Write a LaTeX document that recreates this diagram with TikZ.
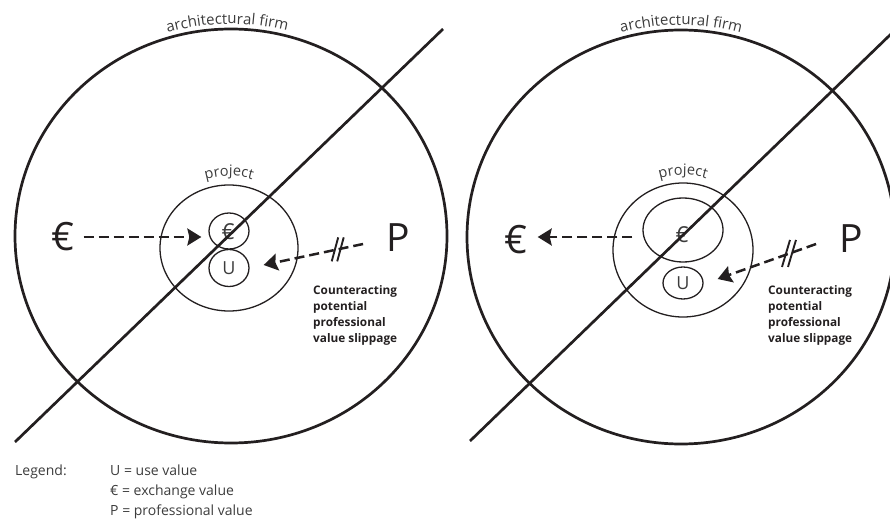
\documentclass[tikz,border=0pt]{standalone}
\usepackage{fontspec}
\setmainfont{Open Sans}
\usetikzlibrary{arrows.meta,calc,shapes.geometric,decorations.text}
\definecolor{ink}{HTML}{231F20}
\definecolor{txt}{HTML}{3C3C3C}
\begin{document}
\begin{tikzpicture}[x=1pt,y=1pt,
  firm/.style={ellipse, draw=ink, line width=2.7pt, inner sep=0pt},
  inner/.style={ellipse, draw=ink, line width=1.3pt, inner sep=0pt},
  diag/.style={draw=ink, line width=2.7pt},
  dasharrow/.style={draw=ink, line width=2.5pt, dash pattern=on 10pt off 5pt,
     -{Stealth[length=14pt,width=17pt,inset=2pt]}},
  slash/.style={draw=ink, line width=1.9pt},
  bigsym/.style={inner sep=0pt, text=ink, font=\fontsize{39}{39}\selectfont},
  usym/.style={inner sep=0pt, text=txt, font=\fontsize{18}{18}\selectfont},
  esym/.style={inner sep=0pt, text=txt, font=\fontsize{22}{22}\selectfont},
  note/.style={inner sep=0pt, anchor=north west, align=left, text=ink,
     font=\bfseries\fontsize{11.8}{16}\selectfont},
  legend/.style={inner sep=0pt, anchor=base west, text=txt,
     font=\fontsize{14}{14}\selectfont},
  arclabel/.style 2 args={decorate, decoration={text along path, text align=center,
     text={|\fontsize{#2}{#2}\selectfont\color{txt}|#1}}}
]
\useasboundingbox (0,0) rectangle (890,520);

% ---------------- left diagram ----------------
\node[firm, minimum width=432pt, minimum height=414pt] (firmL) at (231,284) {};
\path[arclabel={architectural firm}{15}] (firmL.center) ++(127:220 and 212)
  arc[start angle=127, end angle=55, x radius=220, y radius=212];
\node[inner, minimum width=138pt, minimum height=126pt] (projL) at (229,272) {};
\path[arclabel={project}{14.5}] (projL.center) ++(125:77 and 72)
  arc[start angle=125, end angle=55, x radius=77, y radius=72];
\node[inner, minimum width=40pt, minimum height=36pt] (eL) at (229,289) {};
\node[inner, minimum width=40pt, minimum height=37pt] (uL) at (229,252) {};
\node[esym] (eLt) at (228,288) {€};
\node[usym] (uLt) at (229,252) {U};
\coordinate (dL1) at (15,78);
\coordinate (dL2) at (443,491);
\draw[diag] (dL1) -- (dL2);
\node[bigsym] (EL) at (63,283) {€};
\node[bigsym] (PL) at (398,282) {P};
\draw[dasharrow, shorten <=9pt, shorten >=7pt] (EL.east) -- (EL.east -| eL.west);
\draw[dasharrow] ($(PL.west)+(-23,-6)$) -- coordinate[pos=0.255] (sL) ($(uL.east)+(14,3)$);
\draw[slash] ([shift={(-6,-12)}]sL) -- ++(6.5,24);
\draw[slash] ([shift={(-0.5,-12)}]sL) -- ++(6.5,24);
\node[note] (noteL) at (313,235) {Counteracting\\potential\\professional\\value slippage};

% ---------------- right diagram ----------------
\node[firm, minimum width=428pt, minimum height=414pt] (firmR) at (681,283) {};
\path[arclabel={architectural firm}{15}] (firmR.center) ++(126:220 and 212)
  arc[start angle=126, end angle=54, x radius=220, y radius=212];
\node[inner, minimum width=140pt, minimum height=134pt] (projR) at (683,270) {};
\path[arclabel={project}{14.5}] (projR.center) ++(125:77 and 75)
  arc[start angle=125, end angle=55, x radius=77, y radius=75];
\node[inner, minimum width=80pt, minimum height=64pt] (eR) at (683,290) {};
\node[inner, minimum width=40pt, minimum height=32pt] (uR) at (683,237) {};
\node[esym] (eRt) at (682,285) {€};
\node[usym] (uRt) at (683,237) {U};
\coordinate (dR1) at (470,79);
\coordinate (dR2) at (891,486);
\draw[diag] (dR1) -- (dR2);
\node[bigsym] (ER) at (516,280) {€};
\node[bigsym] (PR) at (851,281) {P};
\draw[dasharrow] ($(eR.west)+(-10,-7)$) -- ($(ER.east)+(10,3)$);
\draw[dasharrow] ($(PR.west)+(-23,-5)$) -- coordinate[pos=0.27] (sR) ($(uR.east)+(14,4)$);
\draw[slash] ([shift={(-7.5,-13.5)}]sR) -- ++(8,27);
\draw[slash] ([shift={(-1.5,-13.5)}]sR) -- ++(8,27);
\node[note] (noteR) at (768,235) {Counteracting\\potential\\professional\\value slippage};

% ---------------- legend ----------------
\node[legend] (lg) at (15,45) {Legend:};
\node[legend] (lgU) at (110,45) {U = use value};
\node[legend] (lgE) at (110,25) {€ = exchange value};
\node[legend] (lgP) at (110,5) {P = professional value};
\end{tikzpicture}
\end{document}
